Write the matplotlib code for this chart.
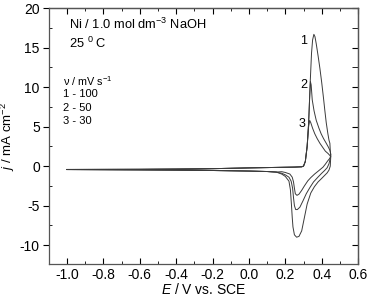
import matplotlib
matplotlib.use('Agg')
import matplotlib.pyplot as plt
import numpy as np

plt.rcParams['font.family'] = ['Liberation Sans', 'DejaVu Sans']
plt.rcParams['mathtext.fontset'] = 'custom'
plt.rcParams['mathtext.rm'] = 'Liberation Sans'
plt.rcParams['mathtext.it'] = 'Liberation Sans:italic'

# shared baseline (forward sweep up to the onset, reverse sweep back to -1.0 V)
E_base_fwd = [-1.0, -0.8, -0.6, -0.4, -0.2, 0.0, 0.1, 0.2, 0.25, 0.29, 0.30]
j_base_fwd = [-0.42, -0.41, -0.40, -0.37, -0.32, -0.22, -0.18, -0.14, -0.12, -0.08, 0.0]
E_base_rev = [0.15, 0.1, 0.0, -0.2, -0.4, -0.6, -0.8, -1.0]
j_base_rev = [-0.75, -0.68, -0.62, -0.55, -0.50, -0.47, -0.45, -0.43]

# 1 - 100 mV/s
E1_fwd = [0.31, 0.32, 0.328, 0.337, 0.344, 0.350, 0.357, 0.363, 0.370, 0.380, 0.390,
          0.400, 0.410, 0.417, 0.425, 0.434, 0.440, 0.445, 0.447, 0.450]
j1_fwd = [0.6, 2.5, 5.4, 10.7, 14.3, 16.0, 16.7, 16.4, 15.5, 14.0, 12.4,
          10.6, 8.6, 7.1, 5.5, 4.1, 3.3, 2.9, 2.0, 1.3]
E1_rev = [0.45, 0.447, 0.44, 0.43, 0.415, 0.40, 0.38, 0.36, 0.34, 0.32, 0.305, 0.29,
          0.275, 0.262, 0.25, 0.242, 0.238, 0.234, 0.228, 0.22, 0.20, 0.18]
j1_rev = [1.3, 0.0, -0.5, -0.85, -1.2, -1.55, -2.0, -2.6, -3.4, -4.8, -6.5, -8.2,
          -8.9, -9.0, -8.7, -7.7, -6.5, -5.0, -3.0, -1.9, -1.3, -1.0]

# 2 - 50 mV/s
E2_fwd = [0.31, 0.32, 0.328, 0.334, 0.338, 0.342, 0.348, 0.358, 0.37, 0.385, 0.397,
          0.41, 0.425, 0.437, 0.445, 0.45]
j2_fwd = [0.6, 2.5, 5.4, 8.8, 10.7, 10.3, 8.4, 7.0, 5.8, 4.8, 4.1,
          3.5, 2.9, 2.4, 2.0, 1.5]
E2_rev = [0.45, 0.445, 0.44, 0.43, 0.416, 0.40, 0.379, 0.355, 0.334, 0.315, 0.297,
          0.28, 0.266, 0.257, 0.25, 0.245, 0.24, 0.232, 0.22, 0.20, 0.18]
j2_rev = [1.5, 0.8, 0.3, -0.2, -0.55, -0.9, -1.4, -2.0, -2.75, -3.5, -4.4,
          -5.2, -5.5, -5.5, -5.0, -4.0, -2.8, -1.9, -1.4, -1.1, -0.9]

# 3 - 30 mV/s
E3_fwd = [0.31, 0.32, 0.328, 0.334, 0.34, 0.35, 0.362, 0.375, 0.39, 0.405, 0.42,
          0.435, 0.445, 0.45]
j3_fwd = [0.6, 2.5, 5.0, 5.8, 5.5, 4.8, 4.1, 3.5, 2.9, 2.4, 1.9,
          1.6, 1.35, 1.2]
E3_rev = [0.45, 0.445, 0.434, 0.42, 0.407, 0.385, 0.361, 0.34, 0.324, 0.305, 0.289,
          0.275, 0.264, 0.255, 0.25, 0.245, 0.238, 0.225, 0.20, 0.18]
j3_rev = [1.2, 1.0, 0.7, 0.25, -0.13, -0.55, -1.0, -1.45, -1.85, -2.5, -3.1,
          -3.55, -3.7, -3.5, -2.8, -2.0, -1.4, -1.0, -0.8, -0.7]

curves = [(E1_fwd, j1_fwd, E1_rev, j1_rev),
          (E2_fwd, j2_fwd, E2_rev, j2_rev),
          (E3_fwd, j3_fwd, E3_rev, j3_rev)]

fig = plt.figure(figsize=(3.73, 2.96), dpi=100)
ax = fig.add_axes([0.131, 0.108, 0.829, 0.864])

for Ef, jf, Er, jr in curves:
    E = np.concatenate([E_base_fwd, Ef, Er, E_base_rev])
    j = np.concatenate([j_base_fwd, jf, jr, j_base_rev])
    ax.plot(E, j, color='#3a3a3a', lw=0.7)

ax.set_xlim(-1.1, 0.6)
ax.set_ylim(-12.4, 20)
ax.set_xticks(np.arange(-1.0, 0.61, 0.2))
ax.set_xticks(np.arange(-1.1, 0.61, 0.1), minor=True)
ax.set_yticks(np.arange(-10, 21, 5))
ax.set_yticks(np.arange(-10, 21, 2.5), minor=True)
ax.set_xticklabels(['-1.0', '-0.8', '-0.6', '-0.4', '-0.2', '0.0', '0.2', '0.4', '0.6'])
ax.set_yticklabels(['-10', '-5', '0', '5', '10', '15', '20'])
ax.tick_params(axis='x', which='both', direction='in', labelsize=10, pad=2.5)
ax.tick_params(axis='x', which='major', length=4)
ax.tick_params(axis='x', which='minor', length=2.5)
ax.tick_params(axis='y', which='major', direction='out', length=4, labelsize=10, pad=2.5)
ax.tick_params(axis='y', which='minor', direction='in', length=2.5)

top = ax.secondary_xaxis('top')
top.set_xticks(np.arange(-1.0, 0.61, 0.2))
top.set_xticks(np.arange(-1.1, 0.61, 0.1), minor=True)
top.tick_params(which='both', direction='in', labeltop=False)
top.tick_params(which='major', length=4)
top.tick_params(which='minor', length=2.5)
right = ax.secondary_yaxis('right')
right.set_yticks(np.arange(-10, 21, 5))
right.set_yticks(np.arange(-10, 21, 2.5), minor=True)
right.tick_params(which='both', direction='in', labelright=False, length=4)

for s in list(ax.spines.values()) + [top.spines['top'], right.spines['right']]:
    s.set_color('#555555')
    s.set_linewidth(0.9)

ax.set_xlabel(r'$E$ / V vs. SCE', fontsize=10, labelpad=0)
ax.set_ylabel(r'$j$ / mA cm$^{-2}$', fontsize=9.5)
ax.yaxis.set_label_coords(-0.103, 0.5)

ax.text(-0.99, 18.0, r'Ni / 1.0 mol dm$^{-3}$ NaOH', fontsize=9.3, va='center')
ax.text(-0.99, 15.6, r'25 $^{0}$ C', fontsize=9.3, va='center')
ax.text(-1.02, 10.8, r'ν / mV s$^{-1}$', fontsize=7.8, va='center')
ax.text(-1.02, 9.1, '1 - 100', fontsize=8, va='center')
ax.text(-1.02, 7.4, '2 - 50', fontsize=8, va='center')
ax.text(-1.02, 5.7, '3 - 30', fontsize=8, va='center')
ax.text(0.30, 15.9, '1', fontsize=9, va='center', ha='center')
ax.text(0.30, 10.3, '2', fontsize=9, va='center', ha='center')
ax.text(0.29, 5.3, '3', fontsize=9, va='center', ha='center')

fig.savefig('out.png', dpi=100)
